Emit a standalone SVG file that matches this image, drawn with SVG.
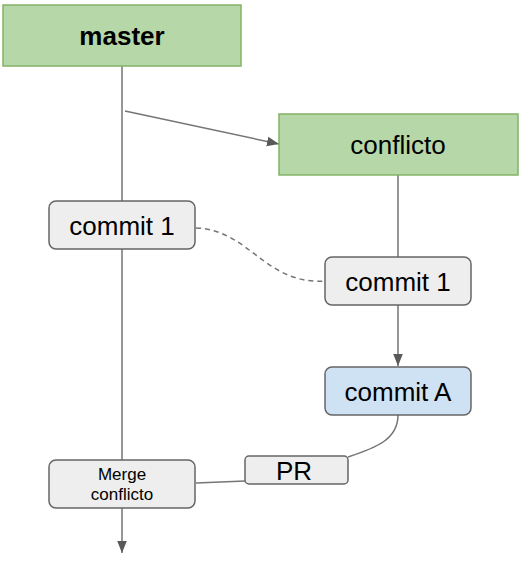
<svg xmlns="http://www.w3.org/2000/svg" width="523" height="564" viewBox="0 0 523 564">
<defs>
<style>
.green{fill:#b6d7a8;stroke:#82b366;stroke-width:1.5}
.grey{fill:#eeeeee;stroke:#666666;stroke-width:1.5}
.blue{fill:#cfe2f3;stroke:#666666;stroke-width:1.5}
.t{font-family:"Liberation Sans",Arial,sans-serif;fill:#000;text-anchor:middle}
.big{font-size:26px}
.small{font-size:17px}
.ln{stroke:#757575;stroke-width:1.5;fill:none}
</style>
<marker id="ahb" viewBox="0 0 10 10" refX="10" refY="5" markerWidth="12" markerHeight="12" orient="auto" markerUnits="userSpaceOnUse">
<path d="M0,1 L10,5 L0,9 z" fill="#595959"/>
</marker>
</defs>
<g id="connectors">
<line class="ln" x1="122" y1="66" x2="122" y2="201"/>
<line class="ln" x1="122" y1="249" x2="122" y2="460"/>
<line class="ln" x1="122" y1="508" x2="122" y2="553" marker-end="url(#ahb)"/>
<line class="ln" x1="125" y1="111" x2="279" y2="144" marker-end="url(#ahb)"/>
<line class="ln" x1="398" y1="175" x2="398" y2="257"/>
<line class="ln" x1="398" y1="305" x2="398" y2="366" marker-end="url(#ahb)"/>
<path class="ln" d="M196,228 C250,230 265,285 325,281" stroke-dasharray="5,4"/>
<path class="ln" d="M398,415 C398,440 375,448 348,457"/>
<path class="ln" d="M196,483 L245,481"/>
</g>
<g id="master">
<rect class="green" x="3" y="5" width="238" height="61"/>
<text class="t big" x="122" y="45" font-weight="bold">master</text>
</g>
<g id="conflicto">
<rect class="green" x="279" y="114" width="239" height="61"/>
<text class="t big" x="398" y="154">conflicto</text>
</g>
<g id="commit1-master">
<rect class="grey" x="49" y="201" width="146" height="48" rx="7"/>
<text class="t big" x="122" y="235">commit 1</text>
</g>
<g id="commit1-conflicto">
<rect class="grey" x="325" y="257" width="146" height="48" rx="7"/>
<text class="t big" x="398" y="291">commit 1</text>
</g>
<g id="commitA">
<rect class="blue" x="325" y="367" width="146" height="48" rx="7"/>
<text class="t big" x="398" y="401">commit A</text>
</g>
<g id="pr">
<rect class="grey" x="245" y="456" width="103" height="28" rx="4"/>
<text class="t big" x="294" y="480">PR</text>
</g>
<g id="merge">
<rect class="grey" x="49" y="460" width="146" height="48" rx="7"/>
<text class="t small" x="122" y="480">Merge</text>
<text class="t small" x="122" y="500">conflicto</text>
</g>
</svg>
